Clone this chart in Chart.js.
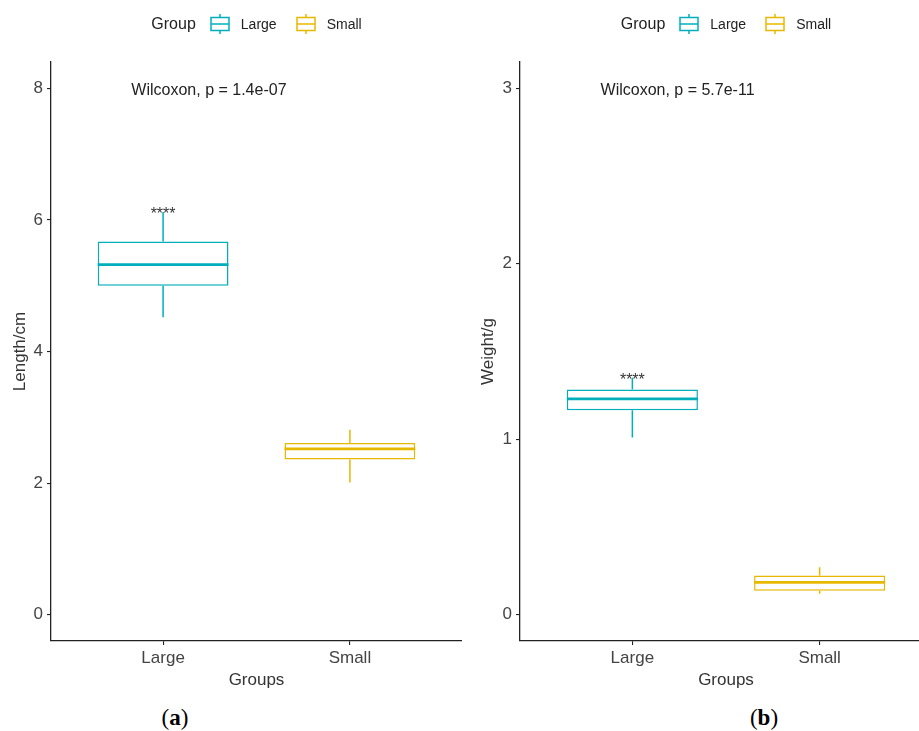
<!DOCTYPE html>
<html>
<head>
<meta charset="utf-8">
<script src="https://cdn.jsdelivr.net/npm/chart.js@4.4.1/dist/chart.umd.min.js"></script>
<style>
html, body { margin:0; padding:0; background:#fff; width:919px; height:731px; overflow:hidden; }
#wrap { position:relative; width:919px; height:731px; overflow:hidden; }
canvas { position:absolute; top:0; }
.legend { position:absolute; top:12px; height:24px; display:flex; align-items:center; justify-content:center;
  font-family:"Liberation Sans", Arial, sans-serif; color:#222; }
.legend .ttl { font-size:16px; margin-right:14px; }
.legend svg { margin-right:11px; display:block; }
.legend .lab { font-size:14px; margin-right:19px; }
.legend .lab:last-child { margin-right:0; }
.cap { position:absolute; top:705px; line-height:26px; font-family:"Liberation Serif", "DejaVu Serif", serif;
  font-size:23px; color:#000; transform:translateX(-50%); white-space:nowrap; }
</style>
</head>
<body>
<div id="wrap">
  <canvas id="chartA" width="462" height="700" style="left:0;width:462px;height:700px;"></canvas>
  <canvas id="chartB" width="470" height="700" style="left:462px;width:470px;height:700px;"></canvas>
  <div class="legend" id="legA" style="left:51px;width:411px;"></div>
  <div class="legend" id="legB" style="left:520px;width:412px;"></div>
  <div class="cap" style="left:175px;">(<b>a</b>)</div>
  <div class="cap" style="left:764px;">(<b>b</b>)</div>
</div>
<script>
// ---- data ----
const categories = ['Large', 'Small'];
const groupColors = ['#00AFBB', '#E7B800'];

const lengthMin    = [4.52, 2.01];
const lengthQ1     = [5.00, 2.36];
const lengthMedian = [5.32, 2.52];
const lengthQ3     = [5.67, 2.61];
const lengthMax    = [6.12, 2.81];
const lengthTicks  = [0, 2, 4, 6, 8];
const lengthRange  = [-0.4, 8.4];

const weightMin    = [1.01, 0.12];
const weightQ1     = [1.165, 0.137];
const weightMedian = [1.23, 0.184];
const weightQ3     = [1.283, 0.224];
const weightMax    = [1.35, 0.27];
const weightTicks  = [0, 1, 2, 3];
const weightRange  = [-0.15, 3.15];

const pLabels   = ['Wilcoxon, p = 1.4e-07', 'Wilcoxon, p = 5.7e-11'];
const pLabelX   = 0.83;
const pLabelY   = [8, 3];
const sigLabels = ['****', ''];

const FONT = '"Liberation Sans", Arial, sans-serif';

// ---- legend (HTML) ----
function legendIcon(color) {
  return '<svg width="20" height="22" viewBox="0 0 20 22">' +
    '<rect x="1" y="4.5" width="18" height="13" fill="#fff" stroke="' + color + '" stroke-width="1.5"/>' +
    '<line x1="1" y1="11" x2="19" y2="11" stroke="' + color + '" stroke-width="1.5"/>' +
    '<line x1="10" y1="1" x2="10" y2="4.5" stroke="' + color + '" stroke-width="1.5"/>' +
    '<line x1="10" y1="17.5" x2="10" y2="21" stroke="' + color + '" stroke-width="1.5"/>' +
    '</svg>';
}
function buildLegend(id) {
  let html = '<span class="ttl">Group</span>';
  categories.forEach((c, i) => {
    html += legendIcon(groupColors[i]) + '<span class="lab">' + c + '</span>';
  });
  document.getElementById(id).innerHTML = html;
}
buildLegend('legA');
buildLegend('legB');

// ---- box extras plugin (whiskers, median, labels) ----
const boxExtras = {
  id: 'boxExtras',
  afterDatasetsDraw(chart, args, o) {
    const { ctx, scales: { x, y } } = chart;
    const meta = chart.getDatasetMeta(0);
    ctx.save();
    meta.data.forEach((bar, i) => {
      const cx = x.getPixelForValue(i + 1);
      const half = bar.width / 2;
      ctx.strokeStyle = groupColors[i];
      ctx.lineWidth = 1.5;
      ctx.beginPath();
      ctx.moveTo(cx, y.getPixelForValue(o.q3[i]));
      ctx.lineTo(cx, y.getPixelForValue(o.max[i]));
      ctx.moveTo(cx, y.getPixelForValue(o.q1[i]));
      ctx.lineTo(cx, y.getPixelForValue(o.min[i]));
      ctx.stroke();
      ctx.lineWidth = 2.6;
      ctx.beginPath();
      const my = y.getPixelForValue(o.median[i]);
      ctx.moveTo(cx - half, my);
      ctx.lineTo(cx + half, my);
      ctx.stroke();
      if (o.sig[i]) {
        ctx.fillStyle = '#333';
        ctx.font = '16px ' + FONT;
        ctx.textAlign = 'center';
        ctx.textBaseline = 'alphabetic';
        ctx.fillText(o.sig[i], cx, y.getPixelForValue(o.max[i]) + 7);
      }
    });
    ctx.fillStyle = '#222';
    ctx.font = '16px ' + FONT;
    ctx.textAlign = 'left';
    ctx.textBaseline = 'middle';
    ctx.fillText(o.label, x.getPixelForValue(o.labelX), y.getPixelForValue(o.labelY) + 2.5);
    ctx.restore();
  }
};

function makeChart(canvasId, d) {
  const gridCommon = { display: true, drawOnChartArea: false, drawTicks: true, tickLength: 4, color: '#222', lineWidth: 1.1, offset: false };
  const borderCommon = { display: true, color: '#222', width: 1.3 };
  return new Chart(document.getElementById(canvasId), {
    type: 'bar',
    data: {
      datasets: [{
        data: categories.map((c, i) => ({ x: i + 1, y: [d.q1[i], d.q3[i]] })),
        backgroundColor: '#ffffff',
        borderColor: groupColors,
        borderWidth: 1.5,
        borderSkipped: false,
        barPercentage: 0.7,
        categoryPercentage: 1.0
      }]
    },
    options: {
      responsive: false,
      animation: false,
      layout: { padding: { top: 62, left: 0, right: 0, bottom: 0 } },
      plugins: {
        legend: { display: false },
        tooltip: { enabled: false },
        boxExtras: d
      },
      scales: {
        x: {
          type: 'linear', min: 0.4, max: 2.6, offset: false,
          afterBuildTicks: s => { s.ticks = categories.map((c, i) => ({ value: i + 1 })); },
          afterFit: s => { s.height = 59; },
          ticks: {
            callback: v => categories[v - 1] || '',
            font: { family: FONT, size: 17 }, color: '#444', padding: 3,
            autoSkip: false, maxRotation: 0
          },
          title: { display: true, text: 'Groups', font: { family: FONT, size: 17 }, color: '#333',
                   padding: { top: 0, bottom: 9 } },
          grid: gridCommon,
          border: borderCommon
        },
        y: {
          min: d.range[0], max: d.range[1],
          afterBuildTicks: s => { s.ticks = d.ticks.map(v => ({ value: v })); },
          afterFit: s => { s.width = d.yWidth; },
          ticks: { font: { family: FONT, size: 17 }, color: '#444', padding: 4 },
          title: { display: true, text: d.yTitle, font: { family: FONT, size: 17 }, color: '#333',
                   padding: { top: d.yTitlePad, bottom: 0 } },
          grid: gridCommon,
          border: borderCommon
        }
      }
    },
    plugins: [boxExtras]
  });
}

makeChart('chartA', {
  min: lengthMin, q1: lengthQ1, median: lengthMedian, q3: lengthQ3, max: lengthMax,
  ticks: lengthTicks, range: lengthRange, yTitle: 'Length/cm', yWidth: 51, yTitlePad: 10,
  label: pLabels[0], labelX: pLabelX, labelY: pLabelY[0], sig: sigLabels
});
makeChart('chartB', {
  min: weightMin, q1: weightQ1, median: weightMedian, q3: weightQ3, max: weightMax,
  ticks: weightTicks, range: weightRange, yTitle: 'Weight/g', yWidth: 58, yTitlePad: 16,
  label: pLabels[1], labelX: pLabelX, labelY: pLabelY[1], sig: sigLabels
});
</script>
</body>
</html>
